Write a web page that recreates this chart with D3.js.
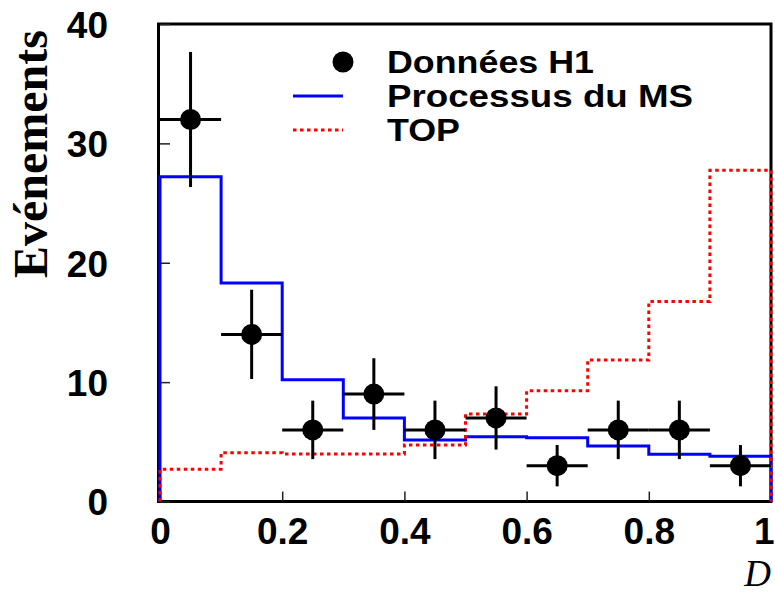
<!DOCTYPE html>
<html>
<head>
<meta charset="utf-8">
<script src="https://cdn.jsdelivr.net/npm/d3@7"></script>
<style>
  html, body { margin: 0; padding: 0; background: #fff; }
  svg { display: block; }
</style>
</head>
<body>
<script>
// ---- data ----
const binEdges   = [0, 0.1, 0.2, 0.3, 0.4, 0.5, 0.6, 0.7, 0.8, 0.9];
const binCenters = [0.05, 0.15, 0.25, 0.35, 0.45, 0.55, 0.65, 0.75, 0.85, 0.95];
const dataValues = [32, 14, 6, 9, 6, 7, 3, 6, 6, 3];
const dataErrors = [5.66, 3.74, 2.45, 3.0, 2.45, 2.65, 1.73, 2.45, 2.45, 1.73];
const smValues   = [27.2, 18.3, 10.2, 7.0, 5.15, 5.42, 5.34, 4.64, 3.95, 3.8];
const topValues  = [2.7, 4.08, 3.97, 3.97, 4.73, 7.32, 9.27, 11.85, 16.75, 27.74];
const xTicks = [0, 0.2, 0.4, 0.6, 0.8, 1];
const yTicks = [0, 10, 20, 30, 40];
const legendLabels = ["Données H1", "Processus du MS", "TOP"];
const yTitle = "Evénements";
const xTitle = "D";

// ---- layout ----
const W = 775, H = 593;
const L = 160, R = 771, T = 24, B = 501.5;

const svg = d3.select("body").append("svg").attr("width", W).attr("height", H);

const x = d3.scaleLinear().domain([0, 1]).range([L, R]);
const y = d3.scaleLinear().domain([0, 40]).range([B, T]);

const sans = "'Liberation Sans', Arial, Helvetica, sans-serif";
const serif = "'Liberation Serif', 'Times New Roman', Times, serif";

// frame
svg.append("rect")
  .attr("x", L - 1.5).attr("y", T).attr("width", R - L + 1.5).attr("height", B - T)
  .attr("fill", "none").attr("stroke", "#000").attr("stroke-width", 3);

// axes
const yAxis = d3.axisLeft(y).tickValues(yTicks).tickSizeInner(-10).tickSizeOuter(0)
  .tickPadding(52).tickFormat(d => String(d));
const gy = svg.append("g").attr("transform", `translate(${L},0)`).call(yAxis);
gy.select(".domain").remove();
gy.selectAll(".tick line").attr("stroke", "#222").attr("stroke-width", 1.5);
gy.selectAll(".tick text").attr("font-family", sans).attr("font-weight", "bold")
  .attr("font-size", 37).attr("fill", "#000").attr("dy", "0.36em");

const xAxis = d3.axisBottom(x).tickValues(xTicks).tickSizeInner(-10).tickSizeOuter(0)
  .tickPadding(16).tickFormat(d => String(d));
const gx = svg.append("g").attr("transform", `translate(0,${B})`).call(xAxis);
gx.select(".domain").remove();
gx.selectAll(".tick line").attr("stroke", "#222").attr("stroke-width", 1.5);
gx.selectAll(".tick text").attr("font-family", sans).attr("font-weight", "bold")
  .attr("font-size", 37).attr("fill", "#000");
// keep the last label ("1") inside the picture, flush with the right edge
gx.selectAll(".tick text").filter(d => d === 1)
  .attr("text-anchor", "end").attr("x", W - R - 1);

// axis titles
svg.append("text")
  .attr("transform", `translate(47,${(T + 282) / 2 + 1}) rotate(-90)`)
  .attr("text-anchor", "middle")
  .attr("font-family", serif).attr("font-weight", "bold").attr("font-size", 48)
  .attr("fill", "#000")
  .text(yTitle);

svg.append("text")
  .attr("x", 771).attr("y", 585.5)
  .attr("text-anchor", "end")
  .attr("font-family", serif).attr("font-style", "italic").attr("font-size", 37)
  .attr("fill", "#000")
  .text(xTitle);

// histograms
function histPoints(vals) {
  const pts = [[0, 0]];
  binEdges.forEach((e, i) => pts.push([e, vals[i]]));
  pts.push([1, vals[vals.length - 1]]);
  pts.push([1, 0]);
  return pts;
}
const stepLine = d3.line().x(d => x(d[0])).y(d => y(d[1])).curve(d3.curveStepAfter);

svg.append("path")
  .attr("d", stepLine(histPoints(smValues)))
  .attr("fill", "none").attr("stroke", "#0000ff").attr("stroke-width", 3);

svg.append("path")
  .attr("d", stepLine(histPoints(topValues)))
  .attr("fill", "none").attr("stroke", "#ff0000").attr("stroke-width", 3)
  .attr("stroke-dasharray", "3.5,3.5");

// data points
const pts = svg.append("g");
binCenters.forEach((c, i) => {
  const v = dataValues[i], e = dataErrors[i];
  pts.append("line")
    .attr("x1", x(c - 0.05)).attr("x2", x(c + 0.05))
    .attr("y1", y(v)).attr("y2", y(v))
    .attr("stroke", "#000").attr("stroke-width", 3);
  pts.append("line")
    .attr("x1", x(c)).attr("x2", x(c))
    .attr("y1", y(v - e)).attr("y2", y(v + e))
    .attr("stroke", "#000").attr("stroke-width", 3);
  pts.append("circle")
    .attr("cx", x(c)).attr("cy", y(v)).attr("r", 10.5)
    .attr("fill", "#000");
});

// legend
const lg = svg.append("g");
const rowsY = [62, 96, 130];
lg.append("circle").attr("cx", 343).attr("cy", rowsY[0]).attr("r", 10.5).attr("fill", "#000");
lg.append("line").attr("x1", 293).attr("x2", 343).attr("y1", rowsY[1]).attr("y2", rowsY[1])
  .attr("stroke", "#0000ff").attr("stroke-width", 3);
lg.append("line").attr("x1", 293).attr("x2", 343).attr("y1", rowsY[2]).attr("y2", rowsY[2])
  .attr("stroke", "#ff0000").attr("stroke-width", 3).attr("stroke-dasharray", "3.5,3.5");
const legendWidths = [207, 306, 73];
legendLabels.forEach((t, i) => {
  lg.append("text")
    .attr("x", 387).attr("y", rowsY[i] + 11)
    .attr("font-family", sans).attr("font-weight", "bold").attr("font-size", 32)
    .attr("textLength", legendWidths[i]).attr("lengthAdjust", "spacingAndGlyphs")
    .attr("fill", "#000")
    .text(t);
});
</script>
</body>
</html>
